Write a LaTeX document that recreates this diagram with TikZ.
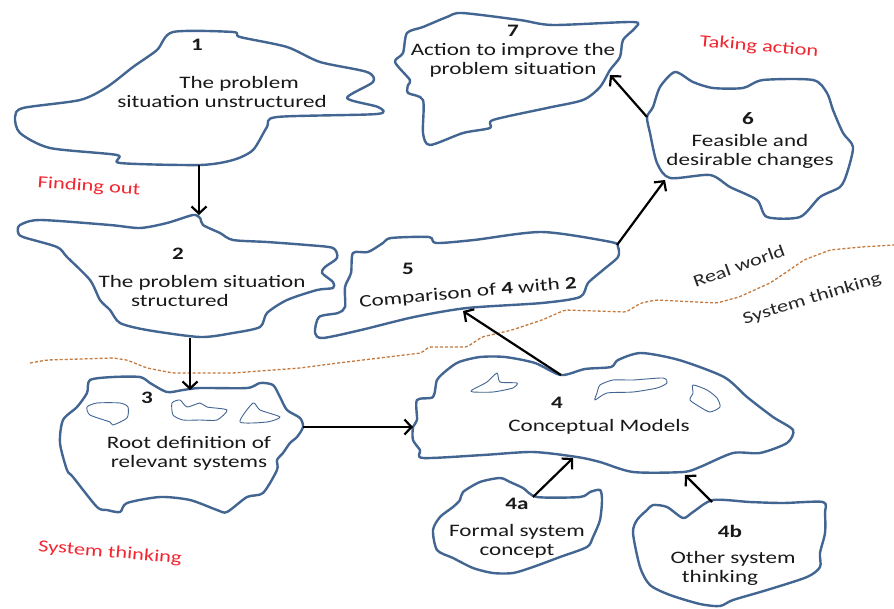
\documentclass[tikz,border=0pt]{standalone}
\usepackage{fontspec}
\setmainfont{Carlito}[FakeStretch=1.32]
\usetikzlibrary{arrows.meta}
\definecolor{cloudblue}{RGB}{66,101,146}
\definecolor{labelred}{RGB}{242,38,48}
\definecolor{borderbrown}{RGB}{196,122,62}
\tikzset{
  cloud/.style={draw=cloudblue, line width=2.4pt, line join=round, fill=white},
  blob/.style={draw=cloudblue, line width=0.9pt, line join=round},
  flow/.style={draw=black, line width=2.2pt,
    -{Straight Barb[length=7pt,width=15pt,line width=2.2pt]}},
  txt/.style={font=\fontsize{17.5}{19}\selectfont, align=center, inner sep=0pt, text=black!90},
  num/.style={font=\fontsize{17.5}{19}\selectfont\bfseries, inner sep=0pt, text=black!90},
  phase/.style={font=\fontsize{17}{19}\selectfont, text=labelred, inner sep=0pt},
  world/.style={font=\fontsize{17}{19}\selectfont, inner sep=0pt, text=black!85},
  divider/.style={draw=borderbrown, line width=1.3pt, dash pattern=on 3pt off 2pt, rounded corners=2pt}
}
\begin{document}
\begin{tikzpicture}[x=1pt,y=-1pt]
\useasboundingbox (0,0) rectangle (894,608);

% boundary between the real world and system thinking
\draw[divider] (30,363) -- (47,360) -- (113,358) -- (127,360) -- (147,368) -- (173,373)
  -- (233,373) -- (300,368) -- (338,363) -- (421,353) -- (429,347) -- (467,347)
  -- (482,337) -- (512,330) -- (542,320) -- (565,310) -- (626,312) -- (641,303)
  -- (656,300) -- (717,303) -- (739,297) -- (770,283) -- (785,273) -- (804,260)
  -- (830,250) -- (861,247) -- (894,245);

% 1: unstructured problem situation
\draw[cloud] plot[smooth cycle, tension=0.45] coordinates {
  (173,32) (233,32) (240,37) (287,47) (320,62) (367,72) (373,82) (347,98) (378,107)
  (377,114) (277,117) (267,127) (253,150) (233,160) (200,165) (120,163) (117,155)
  (50,148) (20,133) (15,117) (23,108) (80,100) (107,87) (133,67) (157,50)};

% 7: action
\draw[cloud] plot[smooth cycle, tension=0.45] coordinates {
  (462,13) (520,20) (553,25) (633,22) (635,28) (623,40) (620,57) (610,70) (600,87)
  (583,100) (547,108) (493,120) (490,128) (463,133) (430,145) (423,133) (423,100)
  (408,93) (408,85) (410,80) (395,62) (403,53) (407,33) (423,27) (447,17)};

% 6: feasible and desirable changes
\draw[cloud] plot[smooth cycle, tension=0.45] coordinates {
  (675,72) (693,82) (713,88) (743,88) (763,80) (813,80) (827,93) (833,110) (843,133)
  (853,147) (847,173) (840,187) (820,197) (800,217) (767,217) (757,200) (730,187)
  (710,175) (670,178) (657,163) (650,133) (647,117) (653,107) (660,87)};

% 2: structured problem situation
\draw[cloud] plot[smooth cycle, tension=0.45] coordinates {
  (20,225) (40,220) (110,225) (140,228) (167,223) (193,215) (200,218) (203,225)
  (220,233) (233,240) (267,242) (307,245) (333,248) (337,258) (325,267) (322,273)
  (333,282) (333,288) (317,290) (287,300) (267,313) (260,327) (233,333) (200,337)
  (147,330) (120,323) (110,310) (100,300) (90,280) (67,257) (57,247) (23,237) (18,232)};

% 5: comparison
\draw[cloud] plot[smooth cycle, tension=0.45] coordinates {
  (391,238) (429,237) (436,243) (474,240) (542,232) (611,242) (618,247) (618,257)
  (603,270) (588,283) (580,297) (542,303) (467,308) (414,317) (361,330) (323,338)
  (315,333) (319,317) (338,313) (345,307) (345,287) (351,273) (353,253) (368,252) (383,243)};

% 3: root definitions
\draw[cloud] plot[smooth cycle, tension=0.45] coordinates {
  (90,380) (113,377) (140,377) (150,383) (167,392) (183,390) (200,388) (247,388)
  (260,383) (273,385) (280,397) (287,410) (300,418) (303,427) (297,437) (290,443)
  (283,453) (277,460) (277,470) (263,493) (247,497) (227,512) (217,510) (190,500)
  (160,497) (127,503) (120,512) (107,510) (97,507) (73,477) (67,470) (60,443)
  (63,420) (77,407) (87,393)};
\draw[blob] plot[smooth cycle, tension=0.4] coordinates {
  (87,407) (97,403) (120,403) (128,407) (127,418) (113,425) (110,422) (90,415)};
\draw[blob] plot[smooth cycle, tension=0.4] coordinates {
  (172,403) (180,400) (187,407) (200,403) (207,407) (227,410) (217,420) (200,420)
  (183,420) (173,415)};
\draw[blob] plot[smooth cycle, tension=0.4] coordinates {
  (240,422) (253,403) (260,410) (280,417) (267,422)};

% 4: conceptual models
\draw[cloud] plot[smooth cycle, tension=0.45] coordinates {
  (413,427) (417,420) (417,400) (433,397) (437,380) (447,370) (459,362) (480,357)
  (505,357) (535,363) (561,375) (585,369) (611,367) (618,360) (641,353) (679,360)
  (724,377) (747,397) (773,417) (793,430) (787,443) (760,453) (733,453) (700,467)
  (683,472) (633,472) (600,462) (577,457) (533,452) (483,455) (423,458) (420,450) (413,440)};
\draw[blob] plot[smooth cycle, tension=0.4] coordinates {
  (472,390) (487,382) (497,373) (500,382) (517,383) (513,388) (493,392) (473,392)};
\draw[blob] plot[smooth cycle, tension=0.4] coordinates {
  (600,385) (613,380) (633,380) (663,378) (667,383) (657,388) (633,392) (607,393)
  (595,400) (597,393)};
\draw[blob] plot[smooth cycle, tension=0.4] coordinates {
  (693,385) (707,390) (717,398) (720,407) (710,412) (700,407) (690,400) (693,393)};

% 4a: formal system concept
\draw[cloud] plot[smooth cycle, tension=0.45] coordinates {
  (463,492) (480,482) (500,478) (510,482) (523,488) (537,497) (580,497) (590,492)
  (600,490) (602,500) (600,520) (593,537) (587,547) (560,557) (533,567) (513,573)
  (493,573) (473,568) (453,558) (437,550) (433,530) (440,517) (453,507) (460,500)};

% 4b: other system thinking
\draw[cloud] plot[smooth cycle, tension=0.45] coordinates {
  (653,505) (667,507) (683,518) (693,512) (713,500) (750,502) (783,503) (823,502)
  (825,513) (825,533) (820,553) (820,567) (807,577) (767,590) (733,600) (720,606)
  (700,604) (670,595) (650,585) (640,567) (633,533) (637,520) (647,510)};

% texts
\node[num] (n1) at (197,45) {1};
\node[txt] (t1) at (222,92) {\hspace*{34pt}The problem\\situation unstructured};
\node[num] (n7) at (513,31) {7};
\node[txt] (t7) at (513,60) {Action to improve the\\problem situation};
\node[num] (n6) at (748,119) {6};
\node[txt] (t6) at (750,151) {Feasible and\\desirable changes};
\node[num] (n2) at (178,254) {2};
\node[txt] (t2) at (202,291) {The problem situation\\\hspace*{-44pt}structured};
\node[num] (n5) at (408,269) {5};
\node[txt, rotate=5] (t5) at (468,293) {Comparison of \textbf{4} with \textbf{2}};
\node[num] (n3) at (147,398) {3};
\node[txt] (t3) at (189,453) {Root definition of\\relevant systems};
\node[num] (n4) at (557,403) {4};
\node[txt] (t4) at (599,427) {Conceptual Models};
\node[num] (n4a) at (517,504) {4a};
\node[txt] (t4a) at (517,541) {Formal system\\concept};
\node[num] (n4b) at (730,531) {4b};
\node[txt] (t4b) at (733,568) {Other system\\\hspace*{-26pt}thinking};

\node[phase, rotate=-4] (pf) at (89,187) {Finding out};
\node[phase, rotate=-5] (pt) at (759,47) {Taking action};
\node[phase, rotate=-5] (ps) at (110,553) {System thinking};
\node[world, rotate=20] (rw) at (739,266) {Real world};
\node[world, rotate=17] (st) at (812,299) {System thinking};

% attachment points on the cloud outlines
\coordinate (c1s) at (199,165);
\coordinate (c2n) at (199,215);
\coordinate (c2s) at (190,338);
\coordinate (c3n) at (190,390);
\coordinate (c3e) at (303,427);
\coordinate (c4w) at (413,427);
\coordinate (c4n) at (561,375);
\coordinate (c5s) at (463,311);
\coordinate (c5e) at (617,245);
\coordinate (c6sw) at (665,180);
\coordinate (c6w) at (647,117);
\coordinate (c7e) at (610,75);
\coordinate (c4aN) at (533,497);
\coordinate (c4s) at (573,458);
\coordinate (c4bN) at (712,502);
\coordinate (c4se) at (685,475);

% flows
\draw[flow] (c1s) -- (c2n);
\draw[flow] (c2s) -- (c3n);
\draw[flow] (c3e) -- (c4w);
\draw[flow] (c4n) -- (c5s);
\draw[flow] (c5e) -- (c6sw);
\draw[flow] (c6w) -- (c7e);
\draw[flow] (c4aN) -- (c4s);
\draw[flow] (c4bN) -- (c4se);
\end{tikzpicture}
\end{document}
